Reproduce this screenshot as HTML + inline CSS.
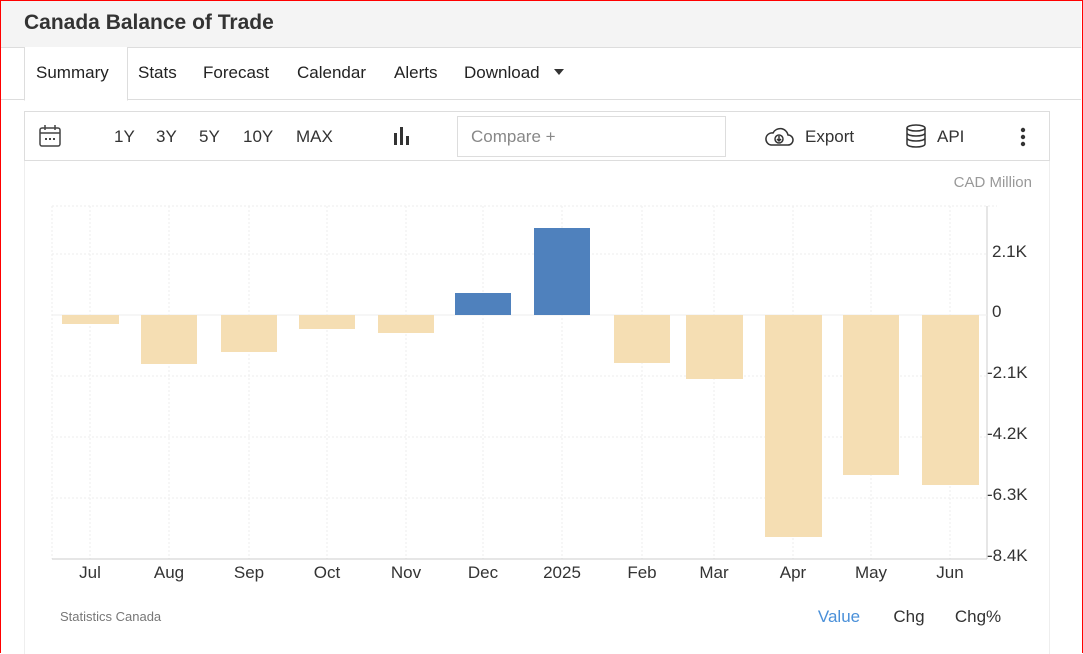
<!DOCTYPE html>
<html><head><meta charset="utf-8"><style>
body{margin:0;width:1083px;height:654px;overflow:hidden;background:#fff;font-family:"Liberation Sans",Arial,sans-serif;position:relative}
.frame{position:absolute;left:0;top:0;width:1081px;height:652px;border:1px solid #f00;border-bottom:none}
.hdr{position:absolute;left:1px;top:1px;width:1080px;height:46px;background:#f4f4f4;border-bottom:1px solid #ddd}
.hdr h1{margin:0;position:absolute;left:23px;top:10px;font-size:21px;font-weight:bold;color:#333}
.tabs{position:absolute;top:48px;left:1px;width:1080px;height:51px;border-bottom:1px solid #ddd}
.tab{position:absolute;top:15px;font-size:17px;color:#222}
.sel{position:absolute;left:23px;top:-1px;width:102px;height:53px;border:1px solid #ddd;border-bottom:1px solid #fff;border-top:none;background:#fff}
.tool{position:absolute;left:24px;top:111px;width:1024px;height:48px;border:1px solid #ddd}
.t{position:absolute;top:15px;font-size:17px;color:#333}
.cmp{position:absolute;left:432px;top:4px;width:267px;height:39px;border:1px solid #ddd;}
.side{position:absolute;left:24px;top:160px;width:1024px;height:494px;border-left:1px solid #eee;border-right:1px solid #eee}
</style></head><body>
<div class="frame"></div>
<div class="hdr"><h1>Canada Balance of Trade</h1></div>
<div class="tabs"><div class="sel"></div>
<span class="tab" style="left:35px">Summary</span><span class="tab" style="left:137px">Stats</span><span class="tab" style="left:202px">Forecast</span><span class="tab" style="left:296px">Calendar</span><span class="tab" style="left:393px">Alerts</span><span class="tab" style="left:463px">Download</span>
<svg style="position:absolute;left:553px;top:21px" width="10" height="6"><path d="M0 0H10L5 6Z" fill="#333"/></svg></div>
<div class="side"></div>
<div class="tool">
<svg style="position:absolute;left:14px;top:13px" width="22" height="22" fill="none" stroke="#444" stroke-width="1.5"><rect x="1" y="3" width="20" height="18" rx="2"/><path d="M1 8H21M6 0V5M16 0V5"/><path d="M6 14h2M10 14h2M14 14h2" stroke-width="2"/></svg>
<span class="t" style="left:89px">1Y</span><span class="t" style="left:131px">3Y</span><span class="t" style="left:174px">5Y</span><span class="t" style="left:218px">10Y</span><span class="t" style="left:271px">MAX</span>
<svg style="position:absolute;left:369px;top:14px" width="16" height="20" fill="#333"><rect x="0" y="7" width="3" height="12"/><rect x="6" y="1" width="3" height="18"/><rect x="12" y="10" width="3" height="9"/></svg>
<div class="cmp"><span style="position:absolute;left:13px;top:10px;font-size:17px;color:#888">Compare +</span></div>
<svg style="position:absolute;left:739px;top:13px" width="30" height="22" fill="none" stroke="#333" stroke-width="1.5"><path d="M7 20H24a5 5 0 0 0 0-10a8 8 0 0 0-15-2a6 6 0 0 0-2 12z"/><circle cx="15" cy="14" r="4"/><path d="M15 11v5M13 14l2 2l2-2"/></svg>
<span class="t" style="left:780px">Export</span>
<svg style="position:absolute;left:880px;top:12px" width="22" height="24" fill="none" stroke="#333" stroke-width="1.5"><ellipse cx="11" cy="4" rx="9" ry="3"/><path d="M2 4v16c0 4 18 4 18 0V4M2 9c0 4 18 4 18 0M2 14c0 4 18 4 18 0"/></svg>
<span class="t" style="left:912px">API</span>
<svg style="position:absolute;left:995px;top:15px" width="6" height="20" fill="#333"><circle cx="3" cy="3" r="2.2"/><circle cx="3" cy="10" r="2.2"/><circle cx="3" cy="17" r="2.2"/></svg>
</div>
<svg style="position:absolute;left:0;top:0" width="1083" height="654" font-family="Liberation Sans,Arial,sans-serif">
<text x="1032" y="187" font-size="15" fill="#999" text-anchor="end">CAD Million</text>
<g stroke="#eee" stroke-dasharray="2,2">
<path d="M52 206H997M52 254H987M52 376H987M52 437H987M52 498H987"/>
<path d="M52 206V559M90 206V559M169 206V559M249 206V559M327 206V559M406 206V559M483 206V559M562 206V559M642 206V559M714 206V559M793 206V559M871 206V559M950 206V559"/>
</g>
<path d="M52 559H987M987 206V559" stroke="#ccc"/>
<path d="M52 315H987" stroke="#eee"/>
<g fill="#f5deb3">
<rect x="62" y="315" width="57" height="9"/><rect x="141" y="315" width="56" height="49"/><rect x="221" y="315" width="56" height="37"/><rect x="299" y="315" width="56" height="14"/><rect x="378" y="315" width="56" height="18"/>
<rect x="614" y="315" width="56" height="48"/><rect x="686" y="315" width="57" height="64"/><rect x="765" y="315" width="57" height="222"/><rect x="843" y="315" width="56" height="160"/><rect x="922" y="315" width="57" height="170"/>
</g>
<g fill="#4f81bd"><rect x="455" y="293" width="56" height="22"/><rect x="534" y="228" width="56" height="87"/></g>
<g font-size="17" fill="#333">
<text x="992" y="257">2.1K</text><text x="992" y="317">0</text><text x="987" y="378">-2.1K</text><text x="987" y="439">-4.2K</text><text x="987" y="500">-6.3K</text><text x="987" y="561">-8.4K</text>
</g>
<g font-size="17" fill="#333" text-anchor="middle">
<text x="90" y="578">Jul</text><text x="169" y="578">Aug</text><text x="249" y="578">Sep</text><text x="327" y="578">Oct</text><text x="406" y="578">Nov</text><text x="483" y="578">Dec</text><text x="562" y="578">2025</text><text x="642" y="578">Feb</text><text x="714" y="578">Mar</text><text x="793" y="578">Apr</text><text x="871" y="578">May</text><text x="950" y="578">Jun</text>
</g>
<text x="60" y="621" font-size="13" fill="#777">Statistics Canada</text>
<text x="839" y="622" font-size="17" fill="#4a90d9" text-anchor="middle">Value</text>
<text x="909" y="622" font-size="17" fill="#333" text-anchor="middle">Chg</text>
<text x="978" y="622" font-size="17" fill="#333" text-anchor="middle">Chg%</text>
</svg>
</body></html>
